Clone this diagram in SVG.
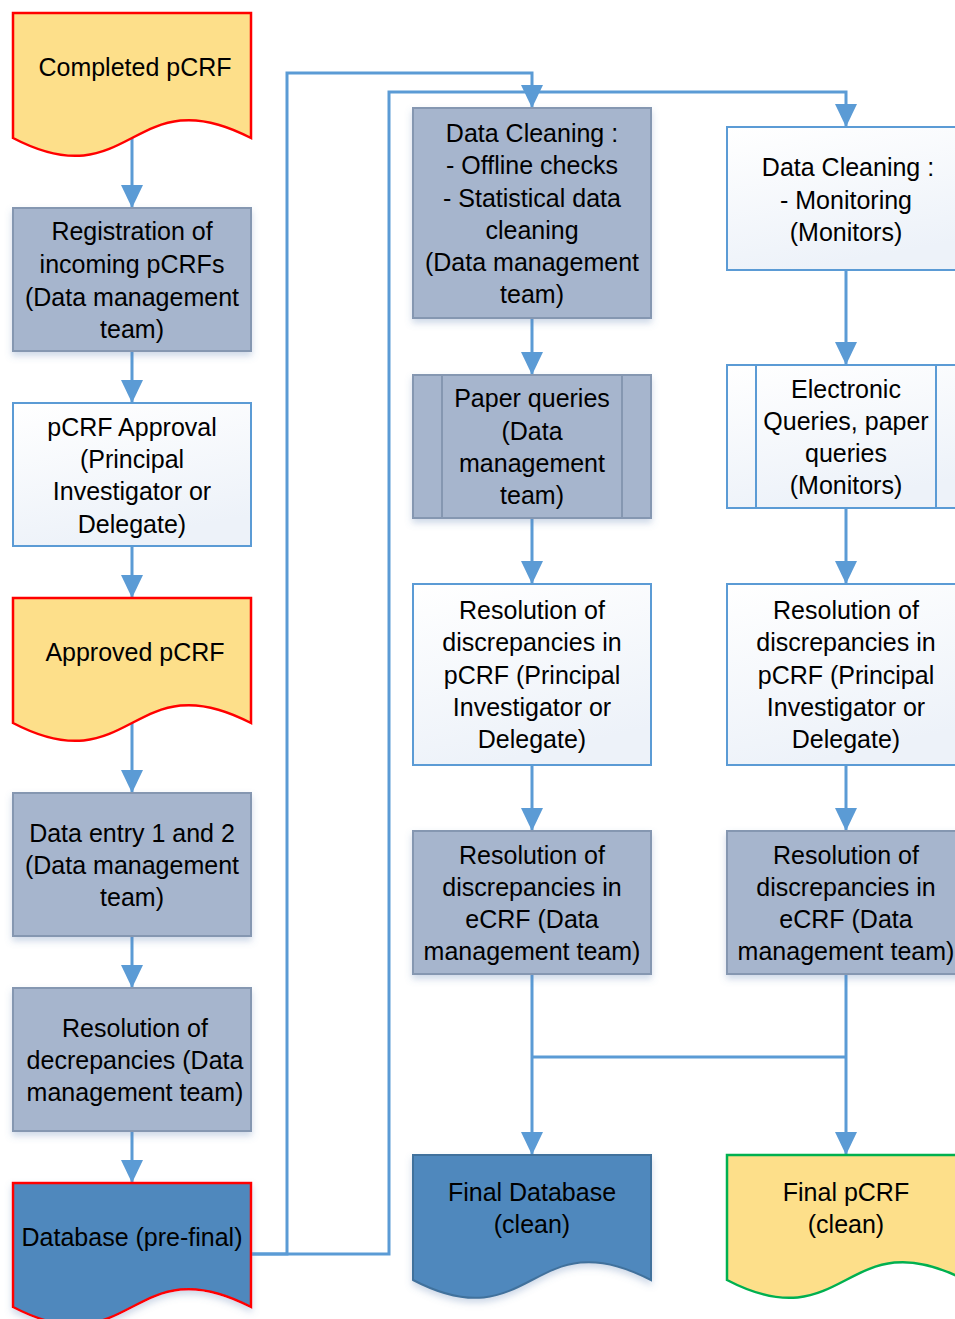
<svg xmlns="http://www.w3.org/2000/svg" width="955" height="1319" viewBox="0 0 955 1319">
<defs>
<linearGradient id="wg" x1="0" y1="0" x2="0.3" y2="1">
<stop offset="0" stop-color="#ffffff"/>
<stop offset="1" stop-color="#edf2f9"/>
</linearGradient>
<filter id="sh" x="-10%" y="-10%" width="120%" height="130%">
<feDropShadow dx="0" dy="4" stdDeviation="3.5" flood-color="#5b7fb0" flood-opacity="0.3"/>
</filter>
<marker id="ah" markerUnits="userSpaceOnUse" markerWidth="24" markerHeight="24" viewBox="0 0 24 24" refX="23" refY="12" orient="auto">
<path d="M0,1 L23,12 L0,23 Z" fill="#5b9bd5"/>
</marker>
<style>
text{font-family:"Liberation Sans",Arial,sans-serif;font-size:25px;fill:#000;text-anchor:middle}
.g{fill:#a6b5cd;stroke:#8597b1;stroke-width:2;filter:url(#sh)}
.gl{stroke:#8597b1;stroke-width:2;fill:none}
.w{fill:url(#wg);stroke:#5b9bd5;stroke-width:2}
.wl{stroke:#5b9bd5;stroke-width:2;fill:none}
.dy{fill:#fddf8a;stroke:#ff0000;stroke-width:2.5}
.db{fill:#4f88bd;stroke:#ff0000;stroke-width:2.5;filter:url(#sh)}
.dbf{fill:#4f88bd;stroke:#41719c;stroke-width:2;filter:url(#sh)}
.dg{fill:#fddf8a;stroke:#00b050;stroke-width:2.5}
.c{fill:none;stroke:#5b9bd5;stroke-width:3}
.a{marker-end:url(#ah)}
</style>
</defs>

<g id="connectors">
<path class="c a" d="M132,138 V208"/>
<path class="c a" d="M132,351 V403"/>
<path class="c a" d="M132,546 V598"/>
<path class="c a" d="M132,723 V793"/>
<path class="c a" d="M132,936 V988"/>
<path class="c a" d="M132,1131 V1183"/>
<path class="c a" d="M251,1254 H287 V73 H532 V108"/>
<path class="c a" d="M251,1254 H389 V92 H846 V127"/>
<path class="c a" d="M532,318 V375"/>
<path class="c a" d="M532,518 V584"/>
<path class="c a" d="M532,765 V831"/>
<path class="c a" d="M532,974 V1155"/>
<path class="c a" d="M846,270 V365"/>
<path class="c a" d="M846,508 V584"/>
<path class="c a" d="M846,765 V831"/>
<path class="c a" d="M846,974 V1155"/>
<path class="c" d="M532,1057 H846"/>
</g>

<g id="completed-pcrf">
<path class="dy" d="M13,13 H251 V138 C132,76 132,200 13,138 Z"/>
<text x="135" y="76">Completed pCRF</text>
</g>

<g id="registration">
<rect class="g" x="13" y="208" width="238" height="143"/>
<text x="132" y="240">Registration of</text>
<text x="132" y="273">incoming pCRFs</text>
<text x="132" y="306">(Data management</text>
<text x="132" y="338">team)</text>
</g>

<g id="pcrf-approval">
<rect class="w" x="13" y="403" width="238" height="143"/>
<text x="132" y="436">pCRF Approval</text>
<text x="132" y="468">(Principal</text>
<text x="132" y="500">Investigator or</text>
<text x="132" y="533">Delegate)</text>
</g>

<g id="approved-pcrf">
<path class="dy" d="M13,598 H251 V723 C132,661 132,785 13,723 Z"/>
<text x="135" y="661">Approved pCRF</text>
</g>

<g id="data-entry">
<rect class="g" x="13" y="793" width="238" height="143"/>
<text x="132" y="842">Data entry 1 and 2</text>
<text x="132" y="874">(Data management</text>
<text x="132" y="906">team)</text>
</g>

<g id="resolution-decrepancies">
<rect class="g" x="13" y="988" width="238" height="143"/>
<text x="135" y="1037">Resolution of</text>
<text x="135" y="1069">decrepancies (Data</text>
<text x="135" y="1101">management team)</text>
</g>

<g id="database-prefinal">
<path class="db" d="M13,1183 H251 V1307 C132,1245 132,1369 13,1307 Z"/>
<text x="132" y="1246">Database (pre-final)</text>
</g>

<g id="data-cleaning-offline">
<rect class="g" x="413" y="108" width="238" height="210"/>
<text x="532" y="142">Data Cleaning :</text>
<text x="532" y="174">- Offline checks</text>
<text x="532" y="207">- Statistical data</text>
<text x="532" y="239">cleaning</text>
<text x="532" y="271">(Data management</text>
<text x="532" y="303">team)</text>
</g>

<g id="paper-queries">
<rect class="g" x="413" y="375" width="238" height="143"/>
<path class="gl" d="M442,375 V518 M622,375 V518"/>
<text x="532" y="407">Paper queries</text>
<text x="532" y="440">(Data</text>
<text x="532" y="472">management</text>
<text x="532" y="504">team)</text>
</g>

<g id="resolution-pcrf-dm">
<rect class="w" x="413" y="584" width="238" height="181"/>
<text x="532" y="619">Resolution of</text>
<text x="532" y="651">discrepancies in</text>
<text x="532" y="684">pCRF (Principal</text>
<text x="532" y="716">Investigator or</text>
<text x="532" y="748">Delegate)</text>
</g>

<g id="resolution-ecrf-dm">
<rect class="g" x="413" y="831" width="238" height="143"/>
<text x="532" y="864">Resolution of</text>
<text x="532" y="896">discrepancies in</text>
<text x="532" y="928">eCRF (Data</text>
<text x="532" y="960">management team)</text>
</g>

<g id="final-database">
<path class="dbf" d="M413,1155 H651 V1280 C532,1218 532,1342 413,1280 Z"/>
<text x="532" y="1201">Final Database</text>
<text x="532" y="1233">(clean)</text>
</g>

<g id="data-cleaning-monitoring">
<rect class="w" x="727" y="127" width="238" height="143"/>
<text x="848" y="176">Data Cleaning :</text>
<text x="846" y="209">- Monitoring</text>
<text x="846" y="241">(Monitors)</text>
</g>

<g id="electronic-queries">
<rect class="w" x="727" y="365" width="238" height="143"/>
<path class="wl" d="M756,365 V508 M936,365 V508"/>
<text x="846" y="398">Electronic</text>
<text x="846" y="430">Queries, paper</text>
<text x="846" y="462">queries</text>
<text x="846" y="494">(Monitors)</text>
</g>

<g id="resolution-pcrf-mon">
<rect class="w" x="727" y="584" width="238" height="181"/>
<text x="846" y="619">Resolution of</text>
<text x="846" y="651">discrepancies in</text>
<text x="846" y="684">pCRF (Principal</text>
<text x="846" y="716">Investigator or</text>
<text x="846" y="748">Delegate)</text>
</g>

<g id="resolution-ecrf-mon">
<rect class="g" x="727" y="831" width="238" height="143"/>
<text x="846" y="864">Resolution of</text>
<text x="846" y="896">discrepancies in</text>
<text x="846" y="928">eCRF (Data</text>
<text x="846" y="960">management team)</text>
</g>

<g id="final-pcrf">
<path class="dg" d="M727,1155 H965 V1280 C846,1218 846,1342 727,1280 Z"/>
<text x="846" y="1201">Final pCRF</text>
<text x="846" y="1233">(clean)</text>
</g>
</svg>
